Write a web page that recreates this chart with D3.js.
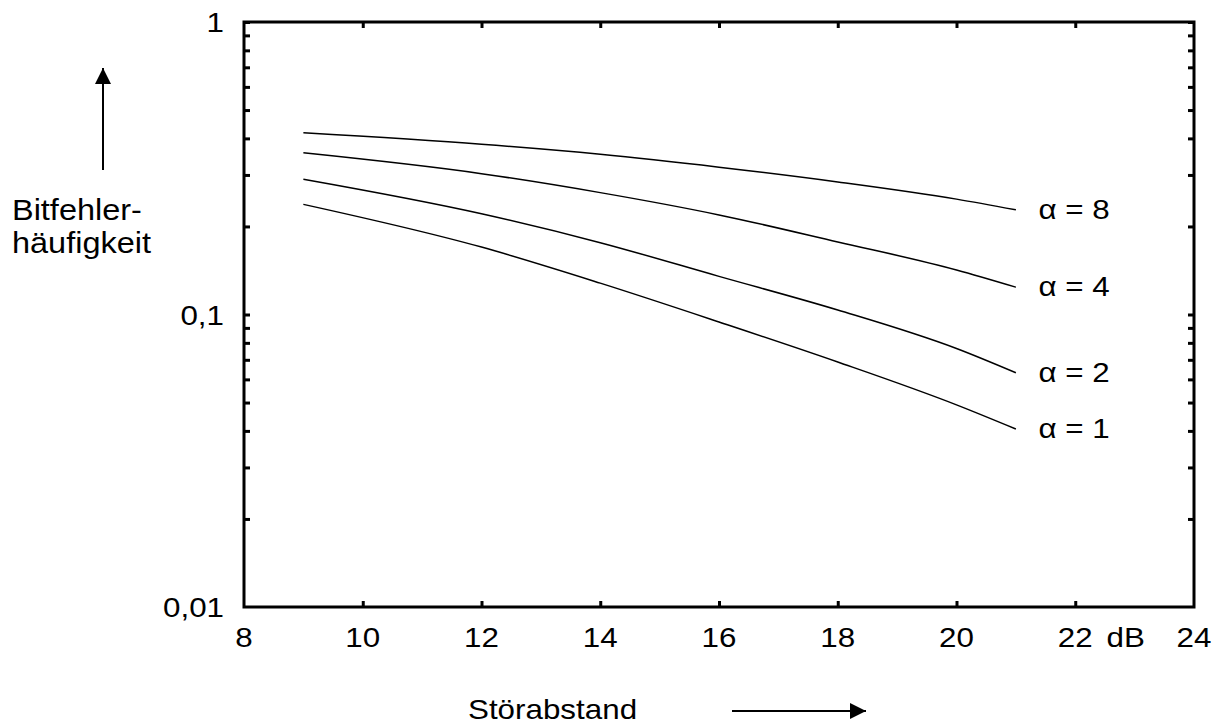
<!DOCTYPE html>
<html>
<head>
<meta charset="utf-8">
<script src="https://cdn.jsdelivr.net/npm/d3@7"></script>
<style>
  body { margin: 0; background: #fff; }
  text { font-family: "Liberation Sans", Arial, sans-serif; fill: #000; }
</style>
</head>
<body>
<div id="chart"></div>
<script>
// data (Störabstand in dB vs. Bitfehlerhäufigkeit)
var snr = [9, 12, 14, 16, 18, 20, 21];
var ber_a8 = [0.418, 0.382, 0.353, 0.319, 0.284, 0.248, 0.228];
var ber_a4 = [0.357, 0.303, 0.261, 0.219, 0.177, 0.142, 0.124];
var ber_a2 = [0.290, 0.221, 0.176, 0.135, 0.1036, 0.0765, 0.0632];
var ber_a1 = [0.238, 0.170, 0.128, 0.0943, 0.0688, 0.0491, 0.0406];
var seriesLabels = ['\u03b1 = 8', '\u03b1 = 4', '\u03b1 = 2', '\u03b1 = 1'];
var xTicks = [8, 10, 12, 14, 16, 18, 20, 22, 24];
var yTicks = [0.01, 0.1, 1];
var yTickLabels = ['0,01', '0,1', '1'];

var W = 1220, H = 725;
var margin = {top: 22, right: 26, bottom: 118, left: 244},
    w = W - margin.left - margin.right,
    h = H - margin.top - margin.bottom;

// the original lettering is a bit wider than Arial
var squeeze = 1.12;

var svg = d3.select('#chart').append('svg')
            .attr('width', W)
            .attr('height', H);

var xScale = d3.scaleLinear().domain([8, 24]).range([0, w]),
    yScale = d3.scaleLog().domain([0.01, 1]).range([h, 0]);

var focus = svg.append('g')
               .attr('transform', 'translate(' + margin.left + ',' + margin.top + ')');

function place(x, y) {
  return 'translate(' + x + ',' + y + ') scale(' + squeeze + ',1)';
}

function label(parent, x, y, str, size, anchor) {
  return parent.append('text')
               .attr('transform', place(x, y))
               .attr('text-anchor', anchor || 'start')
               .style('font-size', size + 'px')
               .text(str);
}

// minor log ticks 0.02..0.09, 0.2..0.9
var minorY = [];
[0.01, 0.1].forEach(function(d) {
  for (var k = 2; k <= 10; k++) minorY.push(+(d * k).toFixed(3));
});
var innerX = xTicks.slice(1, -1);

function styleAxis(g) {
  g.select('.domain').remove();
  g.selectAll('line').attr('stroke', '#000').attr('stroke-width', 3);
}

focus.append('g').attr('transform', 'translate(0,' + h + ')')
     .call(d3.axisBottom(xScale).tickValues(innerX).tickSize(-6).tickFormat(''))
     .call(styleAxis);
focus.append('g')
     .call(d3.axisTop(xScale).tickValues(innerX).tickSize(-6).tickFormat(''))
     .call(styleAxis);
focus.append('g')
     .call(d3.axisLeft(yScale).tickValues(minorY).tickSize(-6).tickFormat(''))
     .call(styleAxis);
focus.append('g').attr('transform', 'translate(' + w + ',0)')
     .call(d3.axisRight(yScale).tickValues(minorY).tickSize(-6).tickFormat(''))
     .call(styleAxis);

// frame
focus.append('rect')
     .attr('width', w).attr('height', h)
     .attr('fill', 'none')
     .attr('stroke', '#000')
     .attr('stroke-width', 3);

// tick labels
focus.selectAll('.xlab')
     .data(xTicks)
     .enter().append('text')
     .attr('class', 'xlab')
     .attr('transform', function(d) { return place(xScale(d), h + 40); })
     .attr('text-anchor', 'middle')
     .style('font-size', '28px')
     .text(function(d) { return d; });

label(focus, xScale(22.85), h + 40, 'dB', 28, 'middle');

focus.selectAll('.ylab')
     .data(yTicks)
     .enter().append('text')
     .attr('class', 'ylab')
     .attr('transform', function(d) { return place(-20, yScale(d) + 10); })
     .attr('text-anchor', 'end')
     .style('font-size', '28px')
     .text(function(d, i) { return yTickLabels[i]; });

// curves
var line = d3.line()
             .x(function(d) { return xScale(d[0]); })
             .y(function(d) { return yScale(d[1]); })
             .curve(d3.curveMonotoneX);

var allSeries = [ber_a8, ber_a4, ber_a2, ber_a1];

allSeries.forEach(function(vals, i) {
  var pts = snr.map(function(x, j) { return [x, vals[j]]; });
  focus.append('path')
       .datum(pts)
       .attr('d', line)
       .attr('fill', 'none')
       .attr('stroke', '#000')
       .attr('stroke-width', 1.5);

  label(focus, xScale(21.38), yScale(vals[vals.length - 1]) + 9, seriesLabels[i], 28);
});

// axis titles with arrows
svg.append('defs').append('marker')
   .attr('id', 'head')
   .attr('viewBox', '0 0 10 10')
   .attr('refX', 10).attr('refY', 5)
   .attr('markerUnits', 'userSpaceOnUse')
   .attr('markerWidth', 31).attr('markerHeight', 16)
   .attr('orient', 'auto')
   .append('path')
   .attr('d', 'M0,0L10,5L0,10Z')
   .attr('fill', '#000');

svg.append('line')
   .attr('x1', 103).attr('y1', 170)
   .attr('x2', 103).attr('y2', 68)
   .attr('stroke', '#000').attr('stroke-width', 2)
   .attr('marker-end', 'url(#head)');

label(svg, 12, 220, 'Bitfehler-', 29);
label(svg, 12, 253, 'häufigkeit', 29);
label(svg, 468, 719, 'Störabstand', 28);

svg.append('line')
   .attr('x1', 732).attr('y1', 711)
   .attr('x2', 866).attr('y2', 711)
   .attr('stroke', '#000').attr('stroke-width', 2)
   .attr('marker-end', 'url(#head)');
</script>
</body>
</html>
